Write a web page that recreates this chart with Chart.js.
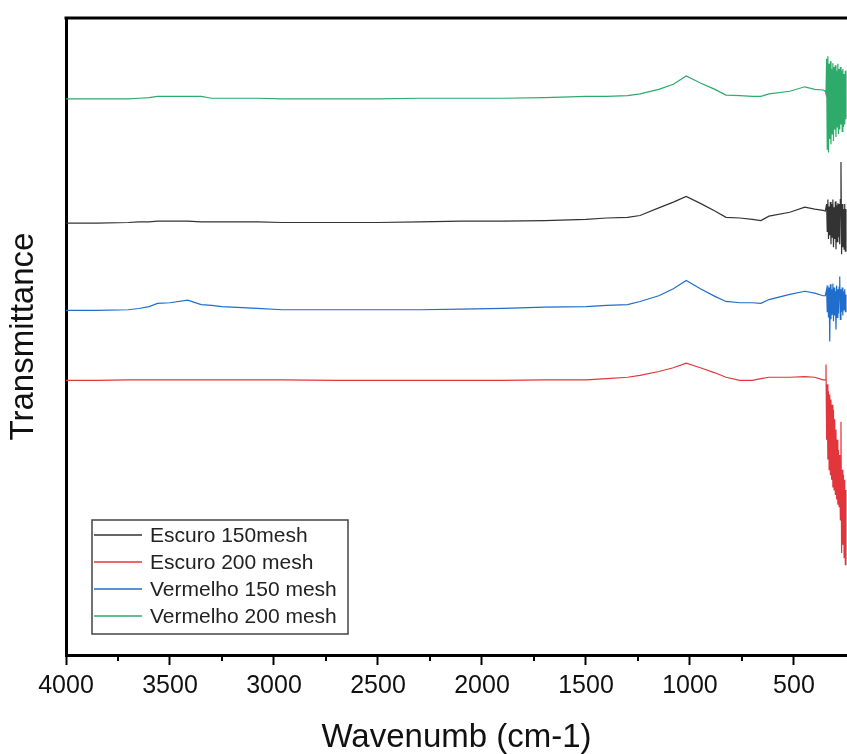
<!DOCTYPE html>
<html><head><meta charset="utf-8">
<script src="https://cdn.jsdelivr.net/npm/chart.js@4/dist/chart.umd.min.js"></script>
<style>html,body{margin:0;padding:0;background:#fff;overflow:hidden}#wrap{width:847px;height:754px;position:relative}</style>
</head><body><div id="wrap"><canvas id="c" width="847" height="754"></canvas></div>
<script>
const seriesLabels = ['Escuro 150mesh', 'Escuro 200 mesh', 'Vermelho 150 mesh', 'Vermelho 200 mesh'];
const seriesColors = ['#333333', '#e2363c', '#1f6dcc', '#2eaa6b'];

const wavenumbers = [4000, 3850, 3700, 3650, 3600, 3560, 3500, 3415, 3350, 3300, 3250, 3080, 2960, 2700, 2500, 2300, 2100, 1900, 1700, 1500, 1400, 1300, 1240, 1150, 1080, 1018, 950, 880, 827, 760, 700, 659, 620, 520, 448, 400, 360, 349];

const escuro150 = [67.8, 67.8, 67.9, 68.0, 68.0, 68.1, 68.1, 68.1, 68.0, 68.0, 68.0, 68.0, 67.9, 67.9, 67.9, 68.0, 68.1, 68.1, 68.2, 68.4, 68.6, 68.7, 69.0, 70.2, 71.1, 72.0, 70.9, 69.7, 68.7, 68.6, 68.4, 68.2, 68.9, 69.5, 70.3, 70.0, 69.8, 69.7];
const escuro200 = [43.1, 43.1, 43.2, 43.2, 43.2, 43.2, 43.2, 43.2, 43.2, 43.2, 43.2, 43.2, 43.2, 43.1, 43.1, 43.1, 43.1, 43.1, 43.2, 43.2, 43.4, 43.6, 43.9, 44.5, 45.1, 45.8, 45.1, 44.3, 43.6, 43.1, 43.1, 43.4, 43.6, 43.6, 43.7, 43.6, 43.2, 43.2];
const vermelho150 = [54.1, 54.1, 54.2, 54.4, 54.7, 55.2, 55.3, 55.7, 55.0, 54.9, 54.7, 54.4, 54.2, 54.2, 54.2, 54.2, 54.3, 54.4, 54.6, 54.7, 54.9, 55.0, 55.5, 56.4, 57.5, 58.8, 57.5, 56.3, 55.5, 55.3, 55.3, 55.2, 55.8, 56.6, 57.1, 56.8, 56.4, 56.4];
const vermelho200 = [87.3, 87.3, 87.3, 87.4, 87.5, 87.7, 87.7, 87.7, 87.7, 87.4, 87.4, 87.4, 87.3, 87.3, 87.3, 87.4, 87.4, 87.4, 87.5, 87.7, 87.7, 87.8, 88.1, 88.8, 89.6, 90.9, 89.8, 88.8, 87.9, 87.8, 87.7, 87.7, 88.1, 88.5, 89.2, 88.8, 88.7, 88.5];

const noiseWavenumbers = [346, 343, 340, 337, 334, 331, 328, 325, 322, 319, 316, 313, 310, 307, 304, 301, 298, 295, 292, 289, 286, 283, 280, 277, 274, 271, 268, 265, 262, 259, 256, 253, 250];

const escuro150Noise = [69.7, 70.8, 66.5, 71.5, 65.3, 70.4, 65.9, 71.1, 64.5, 70.8, 65.6, 71.5, 64.0, 70.3, 65.3, 71.2, 63.7, 70.6, 64.9, 70.9, 65.6, 70.8, 64.5, 71.5, 77.4, 62.9, 70.8, 64.0, 70.0, 63.7, 70.8, 63.4, 70.0];
const escuro200Noise = [45.6, 33.8, 42.5, 30.7, 41.4, 29.1, 40.9, 28.3, 40.1, 27.5, 39.3, 26.3, 38.5, 25.9, 37.0, 25.2, 35.4, 24.4, 33.8, 23.6, 32.2, 23.3, 31.4, 21.2, 36.6, 16.0, 29.1, 17.3, 28.3, 15.3, 27.5, 14.2, 25.9];
const vermelho150Noise = [56.4, 57.4, 53.9, 58.0, 53.0, 57.7, 49.2, 58.2, 52.7, 57.4, 53.5, 58.3, 52.4, 57.7, 53.3, 57.1, 51.1, 58.0, 53.0, 57.4, 53.6, 57.7, 59.4, 52.7, 57.4, 53.9, 57.7, 53.3, 57.1, 54.2, 57.4, 53.9, 56.6];
const vermelho200Noise = [88.1, 93.6, 79.4, 94.0, 78.9, 92.8, 81.0, 93.2, 80.2, 92.0, 81.8, 92.9, 80.7, 92.3, 82.5, 92.6, 81.3, 91.7, 82.9, 92.8, 81.8, 92.0, 82.5, 92.3, 83.3, 91.7, 82.2, 92.0, 82.9, 91.2, 83.3, 91.7, 84.1];

const majorTicks = [4000, 3500, 3000, 2500, 2000, 1500, 1000, 500];
const minorTicks = [3750, 3250, 2750, 2250, 1750, 1250, 750];

const seriesValues = [escuro150, escuro200, vermelho150, vermelho200];
const seriesNoise = [escuro150Noise, escuro200Noise, vermelho150Noise, vermelho200Noise];

function buildPoints(vals, noise) {
  return wavenumbers.map((w, i) => ({x: w, y: vals[i]}))
    .concat(noiseWavenumbers.map((w, i) => ({x: w, y: noise[i]})));
}

const datasets = seriesLabels.map((label, i) => ({
  label,
  data: buildPoints(seriesValues[i], seriesNoise[i]),
  borderColor: seriesColors[i],
  borderWidth: 1.2,
  pointRadius: 0,
  tension: 0,
  fill: false
}));

const FONT = "'Liberation Sans', Arial, sans-serif";

const framePlugin = {
  id: 'frame',
  afterDraw(chart) {
    const {ctx, chartArea: a, scales: {x}} = chart;
    ctx.save();
    ctx.strokeStyle = '#000';
    ctx.lineWidth = 3;
    ctx.beginPath();
    ctx.moveTo(a.left - 1.5, a.top);
    ctx.lineTo(a.right, a.top);
    ctx.stroke();
    ctx.lineWidth = 2;
    for (const v of minorTicks) {
      const px = x.getPixelForValue(v);
      if (px < a.left || px > a.right) continue;
      ctx.beginPath();
      ctx.moveTo(px, a.bottom);
      ctx.lineTo(px, a.bottom + 6);
      ctx.stroke();
    }
    // legend
    const bx = a.left + 26, by = a.top + 502, bw = 256, bh = 114;
    ctx.fillStyle = '#fff';
    ctx.fillRect(bx, by, bw, bh);
    ctx.strokeStyle = '#444';
    ctx.lineWidth = 1.5;
    ctx.strokeRect(bx, by, bw, bh);
    ctx.font = '21px ' + FONT;
    ctx.textBaseline = 'middle';
    ctx.textAlign = 'left';
    chart.data.datasets.forEach((ds, i) => {
      const yy = by + 15 + i * 27;
      ctx.strokeStyle = ds.borderColor;
      ctx.lineWidth = 1.3;
      ctx.beginPath();
      ctx.moveTo(bx + 2, yy);
      ctx.lineTo(bx + 50, yy);
      ctx.stroke();
      ctx.fillStyle = '#222';
      ctx.fillText(ds.label, bx + 58, yy + 1);
    });
    ctx.restore();
  }
};

new Chart(document.getElementById('c'), {
  type: 'line',
  data: {datasets},
  options: {
    responsive: false,
    animation: false,
    devicePixelRatio: 1,
    layout: {padding: {top: 18, right: 0, bottom: 0, left: 0}},
    plugins: {legend: {display: false}, tooltip: {enabled: false}},
    scales: {
      x: {
        type: 'linear',
        reverse: true,
        min: 245,
        max: 4000,
        afterBuildTicks(scale) {
          scale.ticks = majorTicks.map(v => ({value: v}));
        },
        afterFit(scale) { scale.height = 99; },
        ticks: {
          color: '#111',
          padding: 6,
          maxRotation: 0,
          autoSkip: false,
          callback: v => String(v),
          font: {family: FONT, size: 25}
        },
        grid: {drawOnChartArea: false, drawTicks: true, tickLength: 10, tickColor: '#000', tickWidth: 2},
        border: {display: true, color: '#000', width: 3},
        title: {display: true, text: 'Wavenumb (cm-1)', color: '#111', font: {family: FONT, size: 33, lineHeight: 1.0}, padding: {top: 0, bottom: 0}}
      },
      y: {
        min: 0,
        max: 100,
        afterFit(scale) { scale.width = 66; },
        ticks: {display: false},
        grid: {drawOnChartArea: false, drawTicks: false},
        border: {display: true, color: '#000', width: 3},
        title: {display: true, text: 'Transmittance', color: '#111', font: {family: FONT, size: 33}, padding: {top: 4, bottom: 0}}
      }
    }
  },
  plugins: [framePlugin]
});
</script>
</body></html>
